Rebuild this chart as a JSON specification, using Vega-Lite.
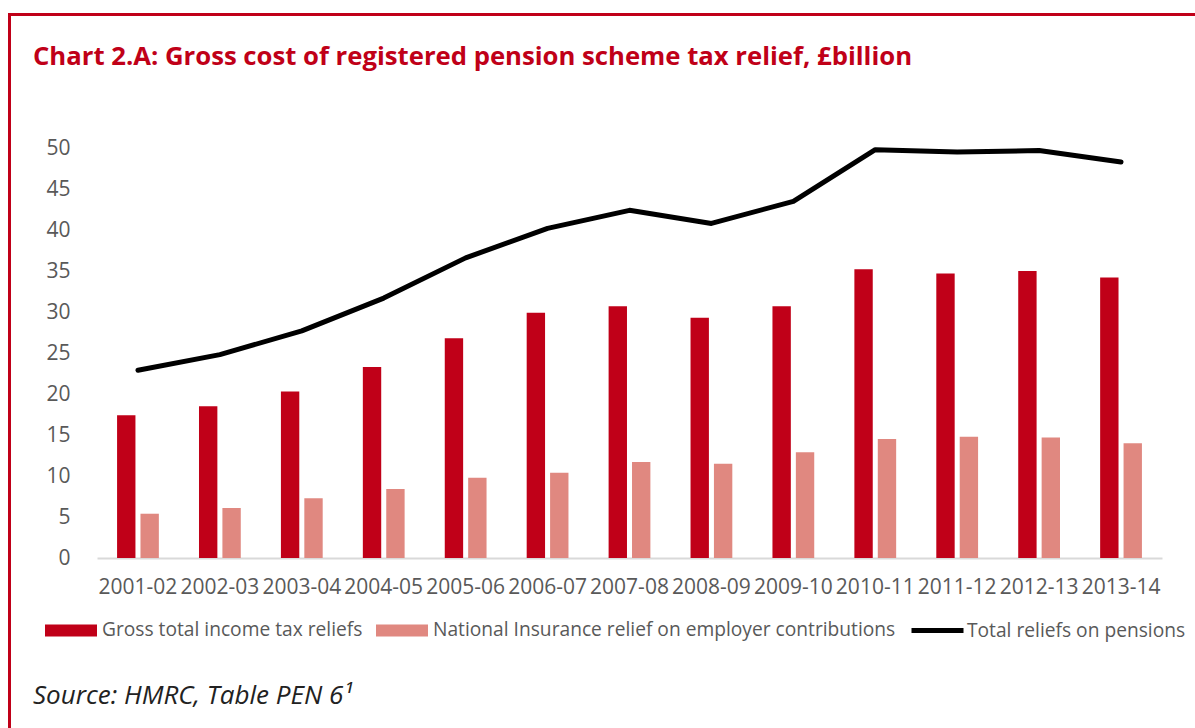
{
  "$schema": "https://vega.github.io/schema/vega-lite/v6.json",
  "background": "white",
  "padding": {"left": 8, "top": 13, "right": 0, "bottom": 0},
  "datasets": {
    "bars": [
      {"year": "2001-02", "series": "Gross total income tax reliefs", "value": 17.4},
      {"year": "2002-03", "series": "Gross total income tax reliefs", "value": 18.5},
      {"year": "2003-04", "series": "Gross total income tax reliefs", "value": 20.3},
      {"year": "2004-05", "series": "Gross total income tax reliefs", "value": 23.3},
      {"year": "2005-06", "series": "Gross total income tax reliefs", "value": 26.8},
      {"year": "2006-07", "series": "Gross total income tax reliefs", "value": 29.9},
      {"year": "2007-08", "series": "Gross total income tax reliefs", "value": 30.7},
      {"year": "2008-09", "series": "Gross total income tax reliefs", "value": 29.3},
      {"year": "2009-10", "series": "Gross total income tax reliefs", "value": 30.7},
      {"year": "2010-11", "series": "Gross total income tax reliefs", "value": 35.2},
      {"year": "2011-12", "series": "Gross total income tax reliefs", "value": 34.7},
      {"year": "2012-13", "series": "Gross total income tax reliefs", "value": 35.0},
      {"year": "2013-14", "series": "Gross total income tax reliefs", "value": 34.2},
      {"year": "2001-02", "series": "National Insurance relief on employer contributions", "value": 5.4},
      {"year": "2002-03", "series": "National Insurance relief on employer contributions", "value": 6.1},
      {"year": "2003-04", "series": "National Insurance relief on employer contributions", "value": 7.3},
      {"year": "2004-05", "series": "National Insurance relief on employer contributions", "value": 8.4},
      {"year": "2005-06", "series": "National Insurance relief on employer contributions", "value": 9.8},
      {"year": "2006-07", "series": "National Insurance relief on employer contributions", "value": 10.4},
      {"year": "2007-08", "series": "National Insurance relief on employer contributions", "value": 11.7},
      {"year": "2008-09", "series": "National Insurance relief on employer contributions", "value": 11.5},
      {"year": "2009-10", "series": "National Insurance relief on employer contributions", "value": 12.9},
      {"year": "2010-11", "series": "National Insurance relief on employer contributions", "value": 14.5},
      {"year": "2011-12", "series": "National Insurance relief on employer contributions", "value": 14.8},
      {"year": "2012-13", "series": "National Insurance relief on employer contributions", "value": 14.7},
      {"year": "2013-14", "series": "National Insurance relief on employer contributions", "value": 14.0}
    ],
    "totals": [
      {"year": "2001-02", "total": 22.9},
      {"year": "2002-03", "total": 24.8},
      {"year": "2003-04", "total": 27.7},
      {"year": "2004-05", "total": 31.7},
      {"year": "2005-06", "total": 36.6},
      {"year": "2006-07", "total": 40.2},
      {"year": "2007-08", "total": 42.4},
      {"year": "2008-09", "total": 40.8},
      {"year": "2009-10", "total": 43.5},
      {"year": "2010-11", "total": 49.8},
      {"year": "2011-12", "total": 49.5},
      {"year": "2012-13", "total": 49.7},
      {"year": "2013-14", "total": 48.3}
    ]
  },
  "spacing": 0,
  "vconcat": [
    {
      "data": {"values": []},
      "width": 1185,
      "height": 1,
      "view": {"stroke": "#C00018", "strokeWidth": 2},
      "mark": "rule",
      "encoding": {}
    },
    {
      "spacing": 22,
      "hconcat": [
        {
          "data": {"values": []},
          "width": 1,
          "height": 715,
          "view": {"stroke": "#C00018", "strokeWidth": 2},
          "mark": "rule",
          "encoding": {}
        },
        {
          "title": {
            "text": "Source: HMRC, Table PEN 6¹",
            "orient": "bottom",
            "anchor": "start",
            "frame": "bounds",
            "font": "Open Sans",
            "fontSize": 26,
            "fontStyle": "italic",
            "fontWeight": "normal",
            "color": "#222222",
            "offset": 42
          },
          "spacing": 67,
          "vconcat": [
            {
              "data": {"values": []},
              "width": 1,
              "height": 1,
              "mark": "rule",
              "encoding": {},
              "title": {
                "text": "Chart 2.A: Gross cost of registered pension scheme tax relief, £billion",
                "orient": "bottom",
                "anchor": "start",
                "frame": "group",
                "baseline": "alphabetic",
                "dx": -64,
                "font": "Open Sans",
                "fontSize": 25.7,
                "fontWeight": "bold",
                "color": "#C00018",
                "offset": 47
              }
            },
            {
              "width": 1065,
              "height": 410,
              "layer": [
                {
                  "data": {"name": "bars"},
                  "mark": {"type": "bar"},
                  "encoding": {
                    "x": {
                      "field": "year",
                      "type": "ordinal",
                      "scale": {"paddingInner": 0.49, "paddingOuter": 0.245},
                      "axis": {
                        "title": null,
                        "labelAngle": 0,
                        "ticks": false,
                        "domainColor": "#D9D9D9",
                        "domainWidth": 2,
                        "labelPadding": 18,
                        "labelFontSize": 21,
                        "labelColor": "#595959",
                        "labelFont": "Open Sans"
                      }
                    },
                    "y": {
                      "field": "value",
                      "type": "quantitative",
                      "scale": {"domain": [0, 50]},
                      "axis": {
                        "title": null,
                        "values": [0, 5, 10, 15, 20, 25, 30, 35, 40, 45, 50],
                        "domain": false,
                        "ticks": false,
                        "grid": false,
                        "labelPadding": 27,
                        "labelFontSize": 21,
                        "labelColor": "#595959",
                        "labelFont": "Open Sans"
                      }
                    },
                    "xOffset": {
                      "field": "series",
                      "type": "nominal",
                      "scale": {"paddingInner": 0.215}
                    },
                    "color": {
                      "field": "series",
                      "type": "nominal",
                      "scale": {
                        "domain": ["Gross total income tax reliefs", "National Insurance relief on employer contributions"],
                        "range": ["#C00018", "#E08880"]
                      },
                      "legend": {
                        "title": null,
                        "orient": "none",
                        "legendX": -52,
                        "legendY": 456,
                        "symbolType": "M-1,-0.23H1V0.23H-1Z",
                        "symbolSize": 2704,
                        "symbolStrokeWidth": 0
                      }
                    }
                  }
                },
                {
                  "data": {"name": "totals"},
                  "mark": {"type": "line", "strokeWidth": 5, "strokeCap": "round", "strokeJoin": "round"},
                  "encoding": {
                    "x": {"field": "year", "type": "ordinal"},
                    "y": {"field": "total", "type": "quantitative"},
                    "stroke": {
                      "datum": "Total reliefs on pensions",
                      "type": "nominal",
                      "scale": {"range": ["#000000"]},
                      "legend": {
                        "title": null,
                        "orient": "none",
                        "legendX": 812,
                        "legendY": 454,
                        "symbolType": "stroke",
                        "symbolSize": 2704,
                        "symbolStrokeWidth": 5,
                        "labelOffset": 1
                      }
                    }
                  }
                }
              ]
            }
          ],
          "resolve": {
            "scale": {"color": "independent", "stroke": "independent"},
            "legend": {"color": "independent", "stroke": "independent"}
          }
        }
      ],
      "resolve": {
        "scale": {"color": "independent", "stroke": "independent"},
        "legend": {"color": "independent", "stroke": "independent"}
      }
    }
  ],
  "resolve": {
    "scale": {"color": "independent", "stroke": "independent"},
    "legend": {"color": "independent", "stroke": "independent"}
  },
  "config": {
    "view": {"stroke": null},
    "font": "Open Sans",
    "legend": {
      "direction": "horizontal",
      "labelFont": "Open Sans",
      "labelFontSize": 19.2,
      "labelColor": "#595959",
      "labelOffset": 5,
      "columnPadding": 13,
      "labelLimit": 700
    }
  }
}
